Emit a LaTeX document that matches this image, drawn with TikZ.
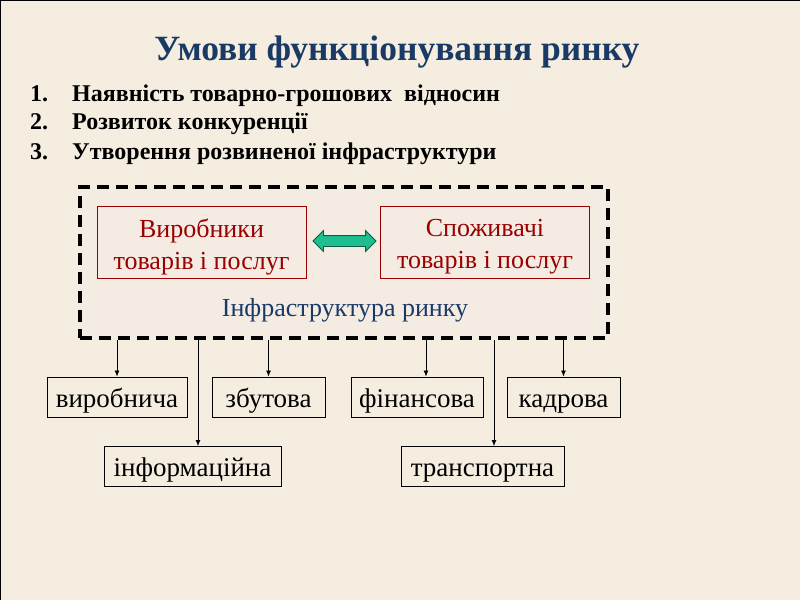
\documentclass[tikz,border=0pt]{standalone}
\usepackage{fontspec}
\setmainfont{Liberation Serif}
\usetikzlibrary{shapes.arrows,arrows.meta}
\definecolor{bg}{HTML}{F5EEE0}
\definecolor{infill}{HTML}{F4EBE3}
\definecolor{titleblue}{HTML}{1A3A66}
\definecolor{boxred}{HTML}{990000}
\definecolor{arrgreen}{HTML}{1DBF8E}
\definecolor{arrdark}{HTML}{0F5C45}
\tikzset{
  txt/.style={inner sep=0pt},
  listfont/.style={font=\bfseries\fontsize{24}{24}\selectfont},
  redbox/.style={draw=boxred, line width=0.9pt, minimum width=209pt, minimum height=72pt, inner sep=0pt},
  redtext/.style={text=boxred, align=center, font=\fontsize{26}{32}\selectfont, inner sep=0pt},
  subbox/.style={draw=black, line width=0.9pt, minimum height=40pt, inner sep=0pt, text height=24pt, text depth=4pt, font=\fontsize{27}{27}\selectfont},
  arr/.style={line width=0.8pt, -{Latex[length=6pt,width=5pt]}},
}
\begin{document}
\begin{tikzpicture}[x=1pt,y=-1pt]
\fill[bg] (0,0) rectangle (800,600);
\useasboundingbox (0,0) rectangle (800,600);
\draw[line width=2pt] (0,600) -- (0,0) -- (800,0);
% title
\node[txt, anchor=mid, text=titleblue, font=\bfseries\fontsize{35.5}{35.5}\selectfont] (title) at (397,58) {Умови функціонування ринку};
% list
\node[txt, anchor=mid west, listfont] (n1) at (30,99) {1.};
\node[txt, anchor=mid west, listfont] (t1) at (72,99) {Наявність товарно-грошових\ \ відносин};
\node[txt, anchor=mid west, listfont] (n2) at (30,127) {2.};
\node[txt, anchor=mid west, listfont] (t2) at (72,127) {Розвиток конкуренції};
\node[txt, anchor=mid west, listfont] (n3) at (30,157) {3.};
\node[txt, anchor=mid west, listfont] (t3) at (72,157) {Утворення розвиненої інфраструктури};
% dashed infrastructure box
\node[draw=black, fill=infill, line width=4pt, dash pattern=on 12pt off 7pt, minimum width=528pt, minimum height=151pt, inner sep=0pt] (infra) at (344,262.5) {};
\node[redbox] (prod) at (201.5,242) {};
\node[redtext] (prodt) at (201.5,247) {Виробники\\товарів і послуг};
\node[redbox] (cons) at (485,242) {};
\node[redtext] (const) at (485,247) {Споживачі\\товарів і послуг};
\node[double arrow, fill=arrgreen, draw=arrdark, line width=0.8pt, minimum width=20pt, double arrow head extend=5pt, minimum height=63pt, inner xsep=0pt, inner ysep=5pt] (dbl) at (344.5,241) {};
\node[txt, anchor=mid, text=titleblue, font=\fontsize{26}{26}\selectfont] (inlab) at (345,314) {Інфраструктура ринку};
% sub boxes
\node[subbox, minimum width=140pt] (vyr) at (117,397) {виробнича};
\node[subbox, minimum width=113pt] (zbut) at (268.5,397) {збутова};
\node[subbox, minimum width=132pt] (fin) at (417,397) {фінансова};
\node[subbox, minimum width=113pt] (kadr) at (563.5,397) {кадрова};
\node[subbox, minimum width=177pt] (inf) at (192.5,466.5) {інформаційна};
\node[subbox, minimum width=163pt] (tran) at (482.5,466.5) {транспортна};
% connectors
\draw[arr] (infra.south -| vyr.north) -- (vyr.north);
\draw[arr] (infra.south -| zbut.north) -- (zbut.north);
\draw[arr] (infra.south -| 426,0) -- (fin.north -| 426,0);
\draw[arr] (infra.south -| kadr.north) -- (kadr.north);
\draw[arr] (infra.south -| 198,0) -- (inf.north -| 198,0);
\draw[arr] (infra.south -| 494,0) -- (tran.north -| 494,0);
\end{tikzpicture}
\end{document}
